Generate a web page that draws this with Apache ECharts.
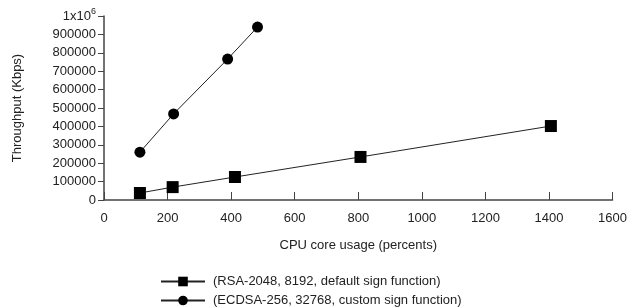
<!DOCTYPE html>
<html>
<head>
<meta charset="utf-8">
<script src="https://cdn.jsdelivr.net/npm/echarts@6/dist/echarts.min.js"></script>
<style>
  html, body { margin: 0; padding: 0; background: #fff; }
  #chart { width: 630px; height: 308px; }
</style>
</head>
<body>
<div id="chart"></div>
<script>
// values
const seriesNames = ['(RSA-2048, 8192, default sign function)', '(ECDSA-256, 32768, custom sign function)'];
const rsaCpu = [113, 216, 412, 807, 1406];
const rsaThroughput = [38000, 70000, 125000, 234000, 402000];
const ecdsaCpu = [113, 219, 389, 483];
const ecdsaThroughput = [260000, 468000, 766000, 940000];

const font = 'Liberation Sans, Arial, sans-serif';
const axisColor = '#444';
const textColor = '#222';

function pairs(xs, ys) {
    return xs.map((x, i) => [x, ys[i]]);
}

let chart = echarts.init(document.getElementById('chart'));

let option = {
    animation: false,
    textStyle: { fontFamily: font },
    grid: { left: 104, right: 17, top: 16, bottom: 108, containLabel: false },
    xAxis: {
        type: 'value',
        min: 0, max: 1600, interval: 200,
        name: 'CPU core usage (percents)',
        nameLocation: 'middle',
        nameGap: 39,
        nameTextStyle: { color: textColor, fontSize: 13, fontFamily: font },
        splitLine: { show: false },
        axisLine: { lineStyle: { color: axisColor, width: 1.5 } },
        axisTick: { inside: true, length: 8, lineStyle: { color: axisColor } },
        axisLabel: {
            color: textColor, fontSize: 13, margin: 12, fontFamily: font,
            formatter: v => String(v)
        }
    },
    yAxis: {
        type: 'value',
        min: 0, max: 1000000, interval: 100000,
        name: 'Throughput (Kbps)',
        nameLocation: 'middle',
        nameRotate: 90,
        nameGap: 80,
        nameTextStyle: { color: textColor, fontSize: 13, fontFamily: font },
        splitLine: { show: false },
        axisLine: { show: true, lineStyle: { color: axisColor, width: 1.5 } },
        axisTick: { show: true, length: 6, lineStyle: { color: axisColor } },
        axisLabel: {
            color: textColor, fontSize: 13, margin: 8, fontFamily: font,
            formatter: function (v) {
                if (v === 1000000) return '{a|1x10}{sup|6}';
                return String(v);
            },
            rich: {
                a: { fontSize: 13, fontFamily: font, color: textColor },
                sup: { fontSize: 9, fontFamily: font, color: textColor, padding: [0, 0, 9, 0] }
            }
        }
    },
    legend: {
        orient: 'vertical',
        left: 160,
        top: 275,
        padding: 0,
        itemGap: 6,
        itemWidth: 44,
        itemHeight: 12,
        textStyle: { color: textColor, fontSize: 13, fontFamily: font, padding: [0, 0, 0, 3] },
        data: seriesNames
    },
    series: [
        {
            name: seriesNames[0],
            type: 'line',
            data: pairs(rsaCpu, rsaThroughput),
            symbol: 'rect',
            symbolSize: 12,
            itemStyle: { color: '#000' },
            lineStyle: { color: textColor, width: 1 }
        },
        {
            name: seriesNames[1],
            type: 'line',
            data: pairs(ecdsaCpu, ecdsaThroughput),
            symbol: 'circle',
            symbolSize: 11,
            itemStyle: { color: '#000' },
            lineStyle: { color: textColor, width: 1 }
        }
    ]
};

chart.setOption(option);
</script>
</body>
</html>
